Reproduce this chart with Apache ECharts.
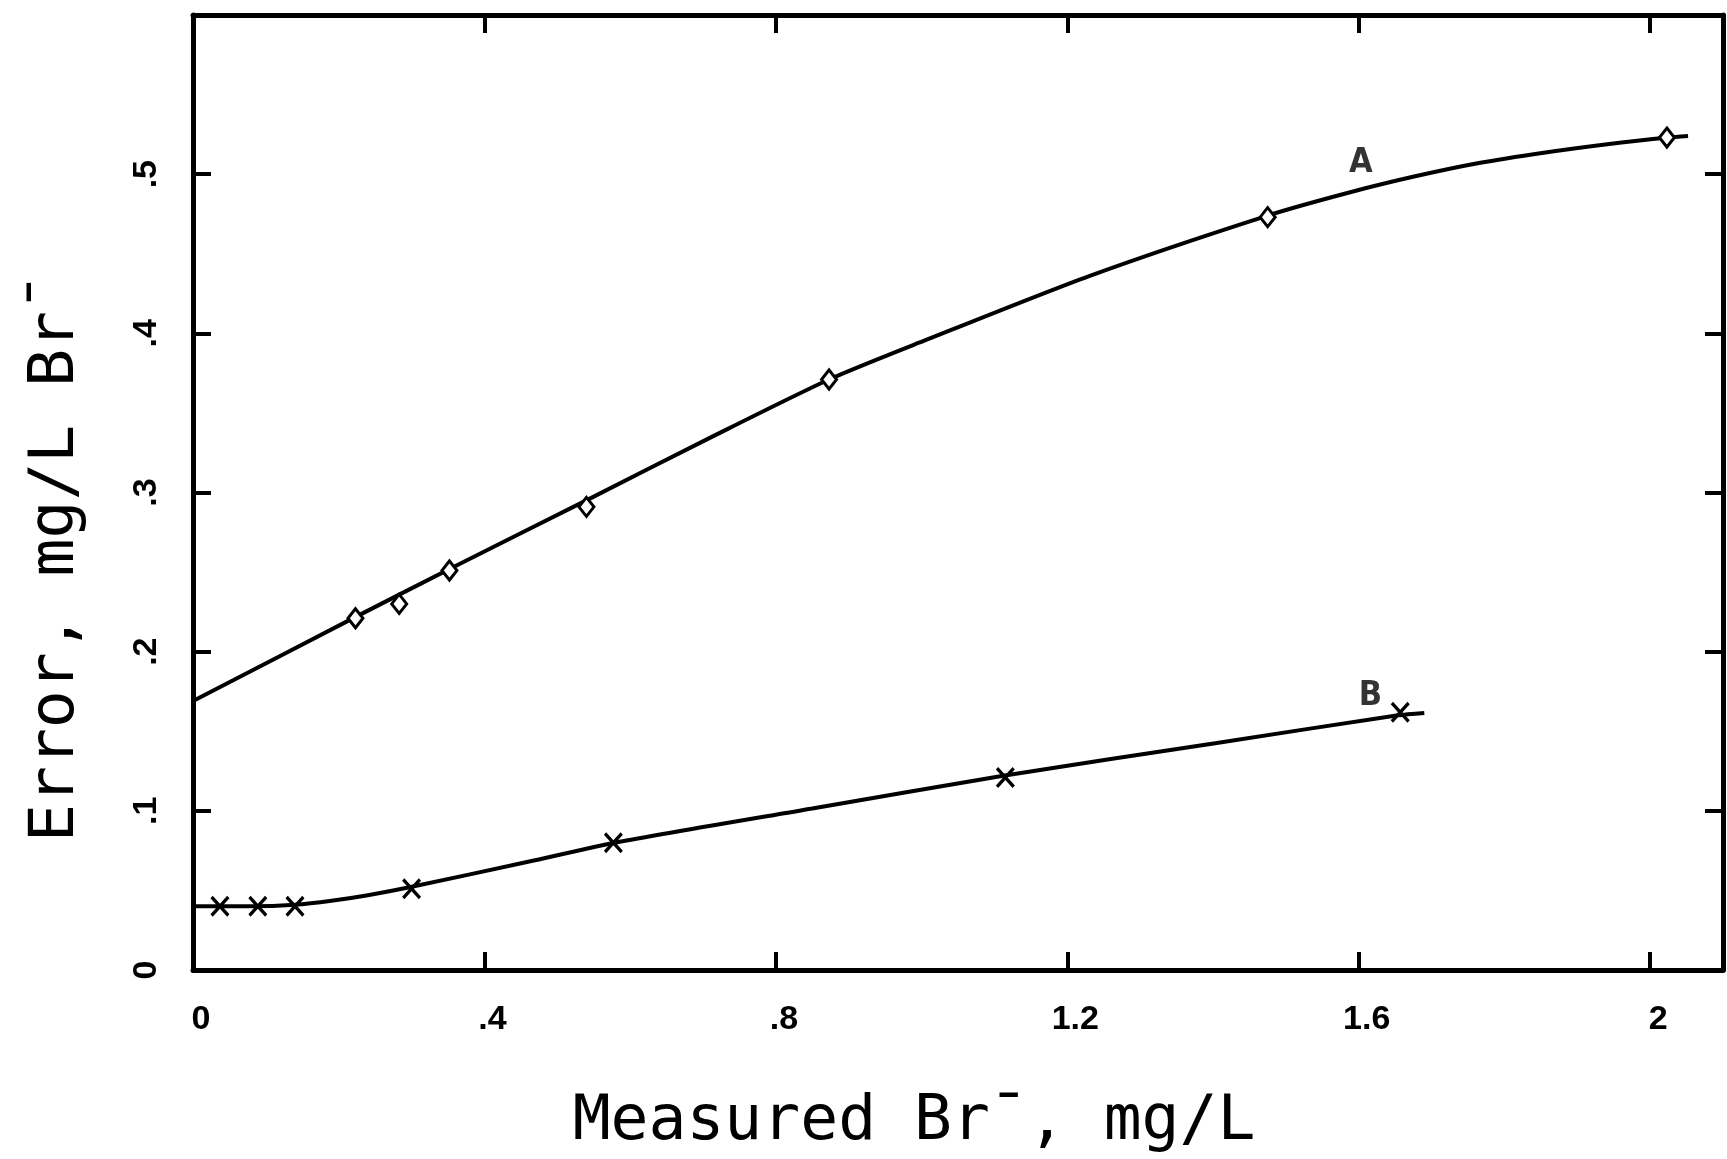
<!DOCTYPE html>
<html><head><meta charset="utf-8">
<script src="https://cdn.jsdelivr.net/npm/echarts@6/dist/echarts.min.js"></script>
<style>html,body{margin:0;padding:0;background:#fff}#c{width:1727px;height:1159px}</style>
</head><body><div id="c"></div>
<script>
// Tick labels
const xTickValues = [0, 0.4, 0.8, 1.2, 1.6, 2.0];
const xTickLabels = ['0', '.4', '.8', '1.2', '1.6', '2'];
const yTickValues = [0, 0.1, 0.2, 0.3, 0.4, 0.5];
const yTickLabels = ['0', '.1', '.2', '.3', '.4', '.5'];

// Measured points, curve A (diamonds)
const pointsA = [[0.223, 0.221], [0.283, 0.230], [0.352, 0.251], [0.540, 0.291], [0.873, 0.371], [1.475, 0.473], [2.023, 0.523]];
// Measured points, curve B (crosses)
const pointsB = [[0.037, 0.040], [0.089, 0.040], [0.140, 0.040], [0.300, 0.051], [0.577, 0.080], [1.115, 0.121], [1.657, 0.162]];

// Fitted curves
const curveA = [[0, 0.169], [0.224, 0.222], [0.361, 0.254], [0.544, 0.296], [0.708, 0.334], [0.873, 0.371], [1.007, 0.396], [1.230, 0.436], [1.475, 0.474], [1.587, 0.4885], [1.676, 0.4985], [1.765, 0.507], [1.854, 0.5135], [1.944, 0.519], [2.024, 0.523], [2.052, 0.524]];
const curveB = [[0, 0.040], [0.08, 0.040], [0.14, 0.041], [0.19, 0.0435], [0.24, 0.047], [0.297, 0.052], [0.46, 0.068], [0.579, 0.080], [0.85, 0.1015], [1.112, 0.122], [1.403, 0.1425], [1.654, 0.160], [1.69, 0.1615]];

// Curve labels
const curveLabels = [['A', 1.603, 0.507], ['B', 1.616, 0.172]];

const xTitle = 'Measured Br\u00AF, mg/L';
const yTitle = 'Error, mg/L Br\u00AF';

function fmt(values, labels) {
  return function (v) {
    for (let i = 0; i < values.length; i++) if (Math.abs(v - values[i]) < 1e-6) return labels[i];
    return '';
  };
}

const chart = echarts.init(document.getElementById('c'), null, {renderer: 'canvas'});
const axisLine = {show: true, onZero: false, lineStyle: {color: '#000', width: 5}};
const axisTick = {show: true, inside: true, length: 18, lineStyle: {color: '#000', width: 4}};
const labelFont = {fontFamily: 'Liberation Sans', fontWeight: 'bold', fontSize: 34, color: '#000'};
const titleFont = {fontFamily: 'DejaVu Sans Mono', fontSize: 63, color: '#000'};

const cross = 'path://M0,1.2 L1.2,0 L5,3.8 L8.8,0 L10,1.2 L6.2,5 L10,8.8 L8.8,10 L5,6.2 L1.2,10 L0,8.8 L3.8,5 Z';

chart.setOption({
  animation: false,
  backgroundColor: '#fff',
  grid: {left: 193, right: 4, top: 15, bottom: 188, containLabel: false},
  xAxis: [{
    type: 'value', min: 0, max: 2.1, interval: 0.4, position: 'bottom',
    axisLine, axisTick, splitLine: {show: false},
    axisLabel: Object.assign({margin: 33, formatter: fmt(xTickValues, xTickLabels), padding: [0, 0, 0, 16]}, labelFont),
    name: xTitle, nameLocation: 'middle', nameGap: 121,
    nameTextStyle: Object.assign({padding: [0, 88, 0, 0]}, titleFont)
  }, {
    type: 'value', min: 0, max: 2.1, interval: 0.4, position: 'top',
    axisLine, axisTick, splitLine: {show: false}, axisLabel: {show: false}
  }],
  yAxis: [{
    type: 'value', min: 0, max: 0.6, interval: 0.1, position: 'left',
    axisLine, axisTick, splitLine: {show: false},
    axisLabel: Object.assign({margin: 29, rotate: 90, formatter: fmt(yTickValues, yTickLabels)}, labelFont),
    name: yTitle, nameLocation: 'middle', nameGap: 105, nameRotate: 90,
    nameTextStyle: Object.assign({padding: [0, 130, 0, 0]}, titleFont)
  }, {
    type: 'value', min: 0, max: 0.6, interval: 0.1, position: 'right',
    axisLine, axisTick, splitLine: {show: false}, axisLabel: {show: false}
  }],
  series: [
    {type: 'line', data: curveA, smooth: 0.25, showSymbol: false, lineStyle: {color: '#000', width: 4}, z: 2},
    {type: 'line', data: curveB, smooth: 0.25, showSymbol: false, lineStyle: {color: '#000', width: 4}, z: 2},
    {type: 'scatter', data: pointsA, symbol: 'diamond', symbolSize: [15, 19],
      itemStyle: {color: '#fff', borderColor: '#000', borderWidth: 3, opacity: 1}, z: 3},
    {type: 'scatter', data: pointsB, symbol: cross, symbolSize: [19, 21],
      itemStyle: {color: '#000', opacity: 1}, z: 3},
    {type: 'scatter', data: curveLabels.map(d => ({name: d[0], value: [d[1], d[2]]})), symbolSize: 0,
      label: {show: true, position: 'inside', formatter: p => p.name, fontFamily: 'DejaVu Sans Condensed', fontWeight: 'bold', fontSize: 34, color: '#000'}, z: 4}
  ]
});
</script></body></html>
